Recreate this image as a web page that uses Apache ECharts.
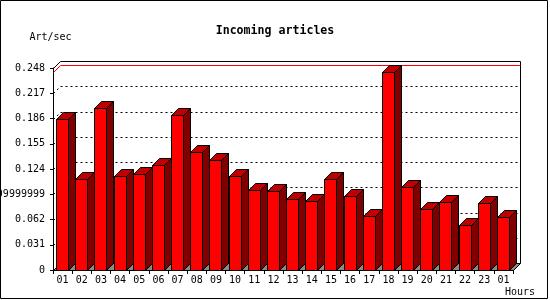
<!DOCTYPE html>
<html>
<head>
<meta charset="utf-8">
<script src="https://cdn.jsdelivr.net/npm/echarts@6/dist/echarts.min.js"></script>
<style>html,body{margin:0;padding:0;background:#fff}#c{width:550px;height:300px}</style>
</head>
<body>
<div id="c"></div>
<script>
const hours = ['01','02','03','04','05','06','07','08','09','10','11','12','13','14','15','16','17','18','19','20','21','22','23','01'];
const articles = [0.1860,0.1112,0.1995,0.1152,0.1177,0.1287,0.1909,0.1450,0.1349,0.1152,0.0977,0.0968,0.0867,0.0842,0.1112,0.0904,0.0658,0.2431,0.1018,0.0744,0.0834,0.0548,0.0818,0.0646];
const yTicks = [0,0.031,0.062,0.093,0.124,0.155,0.186,0.217,0.248];
const yTickLabels = ['0','0.031','0.062','0.09999999','0.124','0.155','0.186','0.217','0.248'];
const maxLine = [0.2431];

const D = 7;
const FONT = 'DejaVu Sans Mono';

function frameBox(params){
  const cs = params.coordSys;
  return {L: Math.round(cs.x) + 0.5, R: Math.round(cs.x + cs.width) + 0.5,
          T: Math.round(cs.y) + 0.5, B: Math.round(cs.y + cs.height) + 0.5};
}

function renderGrid(params, api){
  const v = api.value(0);
  const f = frameBox(params);
  const y = Math.round(api.coord([0, v])[1]) + 0.5;
  const last = params.dataIndex === yTicks.length - 1;
  if (params.dataIndex === 0) return {type:'group', children:[]};
  const st = last ? {stroke:'#000', lineWidth:1, fill:null}
                  : {stroke:'#000', lineWidth:1, fill:null, lineDash:[2,3]};
  const children = [
    {type:'line', shape:{x1:f.L, y1:y, x2:f.L + D, y2:y - D}, style:st},
    {type:'line', shape:{x1:f.L + D, y1:y - D, x2:f.R + D, y2:y - D}, style:st}
  ];
  if (last) {
    children.push({type:'line', shape:{x1:f.R + D, y1:y - D, x2:f.R + D, y2:f.B - D}, style:st});
  }
  return {type:'group', children};
}

function renderMax(params, api){
  const v = api.value(0);
  const f = frameBox(params);
  const y = Math.round(api.coord([0, v])[1]) + 0.5;
  return {type:'polyline', shape:{points:[[f.L, y],[f.L + D, y - D],[f.R + D, y - D]]},
          style:{stroke:'#ff0000', lineWidth:1, fill:null}};
}

function renderFloor(params, api){
  const f = frameBox(params);
  const yb = Math.round(api.coord([0, api.value(0)])[1]) + 0.5;
  return {type:'polygon', shape:{points:[[f.L, yb],[f.R, yb],[f.R + D, yb - D],[f.L + D, yb - D]]},
          style:{fill:'#8a8a8a', stroke:'#000', lineWidth:1}};
}

function renderBar(params, api){
  const i = api.value(0), v = api.value(1);
  const t = api.coord([i, v]), b = api.coord([i, 0]);
  const bw = api.size([1, 0])[0];
  const w = Math.round(bw * 0.62);
  const x0 = Math.floor(t[0] - w / 2) + 0.5;
  const x1 = x0 + w;
  const yt = Math.round(t[1]) + 0.5;
  const yb = Math.round(b[1]) + 0.5;
  return {type:'group', children:[
    {type:'polygon', shape:{points:[[x0,yt],[x1,yt],[x1,yb],[x0,yb]]}, style:{fill:'#ff0000', stroke:'#000', lineWidth:1}},
    {type:'polygon', shape:{points:[[x0,yt],[x0 + D,yt - D],[x1 + D,yt - D],[x1,yt]]}, style:{fill:'#c00000', stroke:'#000', lineWidth:1}},
    {type:'polygon', shape:{points:[[x1,yt],[x1 + D,yt - D],[x1 + D,yb - D],[x1,yb]]}, style:{fill:'#800000', stroke:'#000', lineWidth:1}}
  ]};
}

const chart = echarts.init(document.getElementById('c'), null, {renderer:'canvas'});
chart.setOption({
  animation: false,
  backgroundColor: '#fff',
  title: {
    text: 'Incoming articles', left: 'center', top: 20,
    textStyle: {fontFamily: FONT, fontWeight: 'bold', fontSize: 11.6, color: '#000'}
  },
  graphic: [
    {type:'rect', shape:{x:0.5, y:0.5, width:547, height:298}, style:{fill:null, stroke:'#000', lineWidth:1}, z:100}
  ],
  grid: {left: 53, top: 68, width: 460, height: 202, containLabel: false, outerBoundsMode: 'none'},
  xAxis: {
    type: 'category',
    data: hours.map((h, i) => String(i)),
    boundaryGap: true,
    name: 'Hours', nameLocation: 'end', nameGap: -8,
    nameTextStyle: {fontFamily: FONT, fontSize: 10, color: '#000', verticalAlign: 'top', align: 'left', padding: [17, 0, 0, 0]},
    axisLine: {show: true, lineStyle: {color: '#000', width: 1}},
    axisTick: {show: true, length: 4, interval: 0, lineStyle: {color: '#000'}},
    axisLabel: {interval: 0, margin: 5, fontFamily: FONT, fontSize: 10, color: '#000',
                formatter: (v, idx) => hours[idx]},
    splitLine: {show: false}
  },
  yAxis: {
    type: 'value', min: 0, max: 0.248, interval: 0.031,
    name: 'Art/sec', nameLocation: 'end', nameGap: 26,
    nameTextStyle: {fontFamily: FONT, fontSize: 10, color: '#000', padding: [0, 5, 0, 0]},
    axisLine: {show: true, lineStyle: {color: '#000', width: 1}},
    axisTick: {show: true, length: 3, lineStyle: {color: '#000'}},
    axisLabel: {margin: 8, fontFamily: FONT, fontSize: 10, color: '#000',
                formatter: (v, idx) => yTickLabels[idx]},
    splitLine: {show: false}
  },
  series: [
    {type:'custom', name:'grid', z:1, silent:true, renderItem: renderGrid,
     data: yTicks.map(v => [v]), encode: {y: 0}},
    {type:'custom', name:'max', z:1, silent:true, renderItem: renderMax,
     data: maxLine.map(v => [v]), encode: {y: 0}},
    {type:'custom', name:'floor', z:2, silent:true, renderItem: renderFloor,
     data: [[0]], encode: {y: 0}},
    {type:'custom', name:'Incoming articles', z:3, renderItem: renderBar,
     data: articles.map((v, i) => [i, v]), encode: {x: 0, y: 1}}
  ]
});
</script>
</body>
</html>
